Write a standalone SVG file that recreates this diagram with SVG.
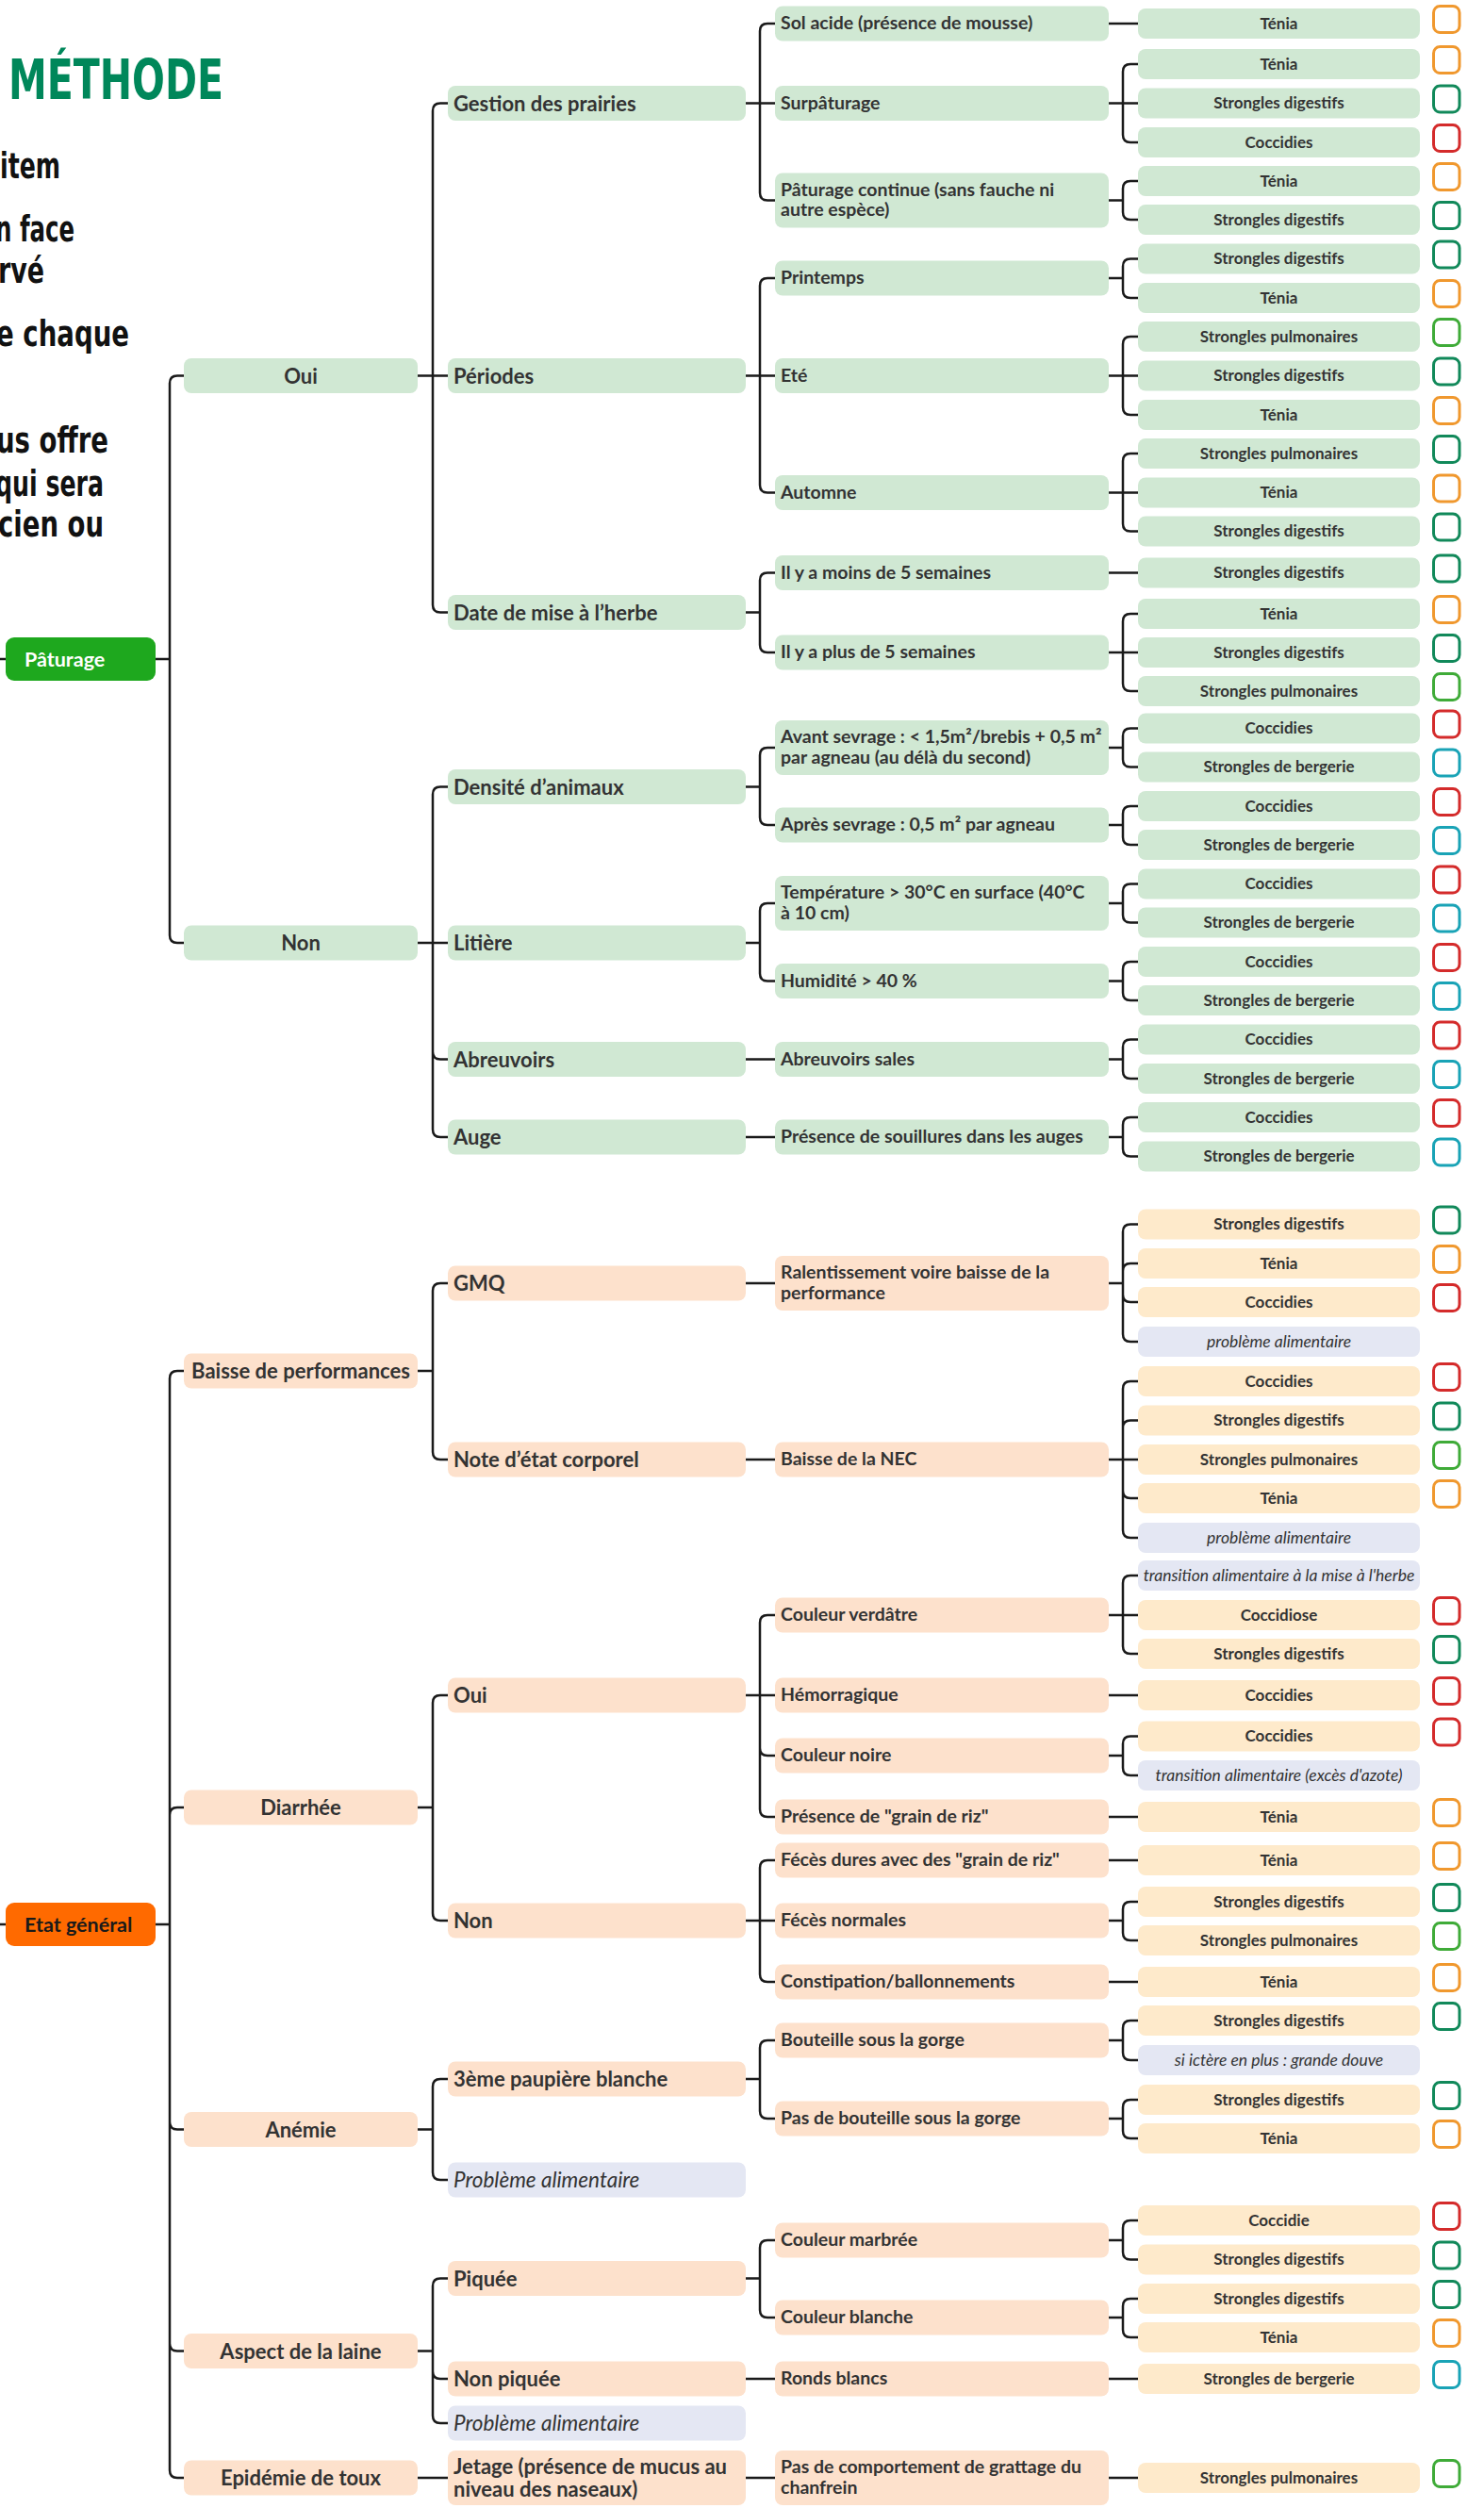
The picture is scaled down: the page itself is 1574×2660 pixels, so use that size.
<svg xmlns="http://www.w3.org/2000/svg" width="1574" height="2660" viewBox="0 0 1574 2660">
<style>
text{font-family:Lato,"Open Sans","Liberation Sans",sans-serif;fill:#333;font-weight:700}
.g{fill:#d0e8d3}.p{fill:#fde1cc}.y{fill:#feeacb}.v{fill:#e4e7f3}
.t1{font-size:22px;text-anchor:middle;transform:translateY(1px)}
.t2{font-size:22px;transform:translateY(1.5px)}
.t3{font-size:19.5px}
.t4{font-size:17px;text-anchor:middle}
.ti{font-size:17.5px;text-anchor:middle;font-style:italic;font-weight:400;transform:translateY(0.5px)}
.t2i{font-size:22.5px;font-style:italic;font-weight:400;transform:translateY(1.5px)}
.rt{font-size:21.5px}
.cb{fill:none;stroke-width:3}
.co{stroke:#f0982e}.cd{stroke:#11895a}.cr{stroke:#d42b2b}.cl{stroke:#3fab38}.ct{stroke:#19a3b6}
.big{font-family:"DejaVu Sans",sans-serif;font-weight:700;fill:#111}
#connectors path{fill:none;stroke:#1a1a1a;stroke-width:2.5}
</style>
<rect width="1574" height="2660" fill="#fff"/>
<text class="big" x="9" y="105" font-size="58" textLength="228" lengthAdjust="spacingAndGlyphs" style="fill:#00875a">MÉTHODE</text>
<text class="big" x="0" y="189" font-size="37" textLength="64" lengthAdjust="spacingAndGlyphs">item</text>
<text class="big" x="-5" y="256" font-size="37" textLength="84" lengthAdjust="spacingAndGlyphs">n face</text>
<text class="big" x="-2" y="300" font-size="37" textLength="49" lengthAdjust="spacingAndGlyphs">rvé</text>
<text class="big" x="-4" y="367" font-size="37" textLength="141" lengthAdjust="spacingAndGlyphs">e chaque</text>
<text class="big" x="-4" y="480" font-size="37" textLength="119" lengthAdjust="spacingAndGlyphs">us offre</text>
<text class="big" x="-5" y="526" font-size="37" textLength="115" lengthAdjust="spacingAndGlyphs">qui sera</text>
<text class="big" x="-2" y="569" font-size="37" textLength="112" lengthAdjust="spacingAndGlyphs">cien ou</text>

<g id="connectors">
<path d="M0,699H6M165,699H180V406.5Q180,398.5 188,398.5H195M165,699H180V992Q180,1000 188,1000H195"/>
<path d="M443,398.5H459V117.5Q459,109.5 467,109.5H475M443,398.5H475M443,398.5H459V641.5Q459,649.5 467,649.5H475"/>
<path d="M443,1000H459V842.5Q459,834.5 467,834.5H475M443,1000H475M443,1000H459V1115.5Q459,1123.5 467,1123.5H475M443,1000H459V1198Q459,1206 467,1206H475"/>
<path d="M791,109.5H806V33Q806,25 814,25H822M791,109.5H822M791,109.5H806V204.5Q806,212.5 814,212.5H822"/>
<path d="M791,398.5H806V303Q806,295 814,295H822M791,398.5H822M791,398.5H806V514.5Q806,522.5 814,522.5H822"/>
<path d="M791,649.5H806V615.5Q806,607.5 814,607.5H822M791,649.5H806V684Q806,692 814,692H822"/>
<path d="M791,834.5H806V801Q806,793 814,793H822M791,834.5H806V867Q806,875 814,875H822"/>
<path d="M791,1000H806V966Q806,958 814,958H822M791,1000H806V1032.5Q806,1040.5 814,1040.5H822"/>
<path d="M791,1123.5H822M791,1206H822"/>
<path d="M1176,25H1207"/>
<path d="M1176,109.5H1191V76Q1191,68 1199,68H1207M1176,109.5H1207M1176,109.5H1191V143Q1191,151 1199,151H1207"/>
<path d="M1176,212.5H1191V200Q1191,192 1199,192H1207M1176,212.5H1191V225Q1191,233 1199,233H1207"/>
<path d="M1176,295H1191V282.5Q1191,274.5 1199,274.5H1207M1176,295H1191V308Q1191,316 1199,316H1207"/>
<path d="M1176,398.5H1191V365Q1191,357 1199,357H1207M1176,398.5H1207M1176,398.5H1191V432Q1191,440 1199,440H1207"/>
<path d="M1176,522.5H1191V489Q1191,481 1199,481H1207M1176,522.5H1207M1176,522.5H1191V555.5Q1191,563.5 1199,563.5H1207"/>
<path d="M1176,607.5H1207"/>
<path d="M1176,692H1191V659Q1191,651 1199,651H1207M1176,692H1207M1176,692H1191V725Q1191,733 1199,733H1207"/>
<path d="M1176,793H1191V780.5Q1191,772.5 1199,772.5H1207M1176,793H1191V805.5Q1191,813.5 1199,813.5H1207"/>
<path d="M1176,875H1191V863Q1191,855 1199,855H1207M1176,875H1191V888Q1191,896 1199,896H1207"/>
<path d="M1176,958H1191V945.5Q1191,937.5 1199,937.5H1207M1176,958H1191V970.5Q1191,978.5 1199,978.5H1207"/>
<path d="M1176,1040.5H1191V1028Q1191,1020 1199,1020H1207M1176,1040.5H1191V1053Q1191,1061 1199,1061H1207"/>
<path d="M1176,1123.5H1191V1110.5Q1191,1102.5 1199,1102.5H1207M1176,1123.5H1191V1136Q1191,1144 1199,1144H1207"/>
<path d="M1176,1206H1191V1193Q1191,1185 1199,1185H1207M1176,1206H1191V1218.5Q1191,1226.5 1199,1226.5H1207"/>
<path d="M0,2041H6M165,2041H180V1462Q180,1454 188,1454H195M165,2041H180V1925Q180,1917 188,1917H195M165,2041H180V2250.5Q180,2258.5 188,2258.5H195M165,2041H180V2485.5Q180,2493.5 188,2493.5H195M165,2041H180V2620Q180,2628 188,2628H195"/>
<path d="M443,1454H459V1369Q459,1361 467,1361H475M443,1454H459V1540Q459,1548 467,1548H475"/>
<path d="M443,1917H459V1806Q459,1798 467,1798H475M443,1917H459V2029Q459,2037 467,2037H475"/>
<path d="M443,2258.5H459V2213Q459,2205 467,2205H475M443,2258.5H459V2304Q459,2312 467,2312H475"/>
<path d="M443,2493.5H459V2424.5Q459,2416.5 467,2416.5H475M443,2493.5H459V2515Q459,2523 467,2523H475M443,2493.5H459V2562Q459,2570 467,2570H475"/>
<path d="M443,2628H475"/>
<path d="M791,1361H822M791,1548H822M791,2523H822M791,2628H822"/>
<path d="M791,1798H806V1721Q806,1713 814,1713H822M791,1798H822M791,1798H806V1854Q806,1862 814,1862H822M791,1798H806V1919Q806,1927 814,1927H822"/>
<path d="M791,2037H806V1981Q806,1973 814,1973H822M791,2037H822M791,2037H806V2094Q806,2102 814,2102H822"/>
<path d="M791,2205H806V2172Q806,2164 814,2164H822M791,2205H806V2239Q806,2247 814,2247H822"/>
<path d="M791,2416.5H806V2384Q806,2376 814,2376H822M791,2416.5H806V2450Q806,2458 814,2458H822"/>
<path d="M1176,1361H1191V1306.5Q1191,1298.5 1199,1298.5H1207M1176,1361H1191V1348Q1191,1340 1199,1340H1207M1176,1361H1191V1373Q1191,1381 1199,1381H1207M1176,1361H1191V1415Q1191,1423 1199,1423H1207"/>
<path d="M1176,1548H1191V1473Q1191,1465 1199,1465H1207M1176,1548H1191V1514.5Q1191,1506.5 1199,1506.5H1207M1176,1548H1207M1176,1548H1191V1581Q1191,1589 1199,1589H1207M1176,1548H1191V1623Q1191,1631 1199,1631H1207"/>
<path d="M1176,1713H1191V1679Q1191,1671 1199,1671H1207M1176,1713H1207M1176,1713H1191V1746Q1191,1754 1199,1754H1207"/>
<path d="M1176,1798H1207M1176,1927H1207M1176,1973H1207M1176,2102H1207M1176,2523H1207M1176,2628H1207"/>
<path d="M1176,1862H1191V1849.5Q1191,1841.5 1199,1841.5H1207M1176,1862H1191V1875Q1191,1883 1199,1883H1207"/>
<path d="M1176,2037H1191V2025Q1191,2017 1199,2017H1207M1176,2037H1191V2050Q1191,2058 1199,2058H1207"/>
<path d="M1176,2164H1191V2151Q1191,2143 1199,2143H1207M1176,2164H1191V2177Q1191,2185 1199,2185H1207"/>
<path d="M1176,2247H1191V2235Q1191,2227 1199,2227H1207M1176,2247H1191V2260Q1191,2268 1199,2268H1207"/>
<path d="M1176,2376H1191V2363Q1191,2355 1199,2355H1207M1176,2376H1191V2388.5Q1191,2396.5 1199,2396.5H1207"/>
<path d="M1176,2458H1191V2446Q1191,2438 1199,2438H1207M1176,2458H1191V2471Q1191,2479 1199,2479H1207"/>
</g>

<g id="n-paturage"><rect x="6" y="676" width="159" height="46" rx="9" fill="#1ea81e"/><text class="rt" x="26" y="706.5" style="fill:#fff">Pâturage</text></g>
<g id="n-etat"><rect x="6" y="2018" width="159" height="46" rx="9" fill="#ff6a00"/><text class="rt" x="26" y="2048.5" style="fill:#1a1a1a">Etat général</text></g>

<g id="n-oui1"><rect class="g" x="195" y="380" width="248" height="37" rx="8"/><text class="t1" x="319" y="405.5">Oui</text></g>
<g id="n-non1"><rect class="g" x="195" y="981.5" width="248" height="37" rx="8"/><text class="t1" x="319" y="1007">Non</text></g>
<g id="n-baisse"><rect class="p" x="195" y="1435.5" width="248" height="37" rx="8"/><text class="t1" x="319" y="1461">Baisse de performances</text></g>
<g id="n-diarrhee"><rect class="p" x="195" y="1898.5" width="248" height="37" rx="8"/><text class="t1" x="319" y="1924">Diarrhée</text></g>
<g id="n-anemie"><rect class="p" x="195" y="2240" width="248" height="37" rx="8"/><text class="t1" x="319" y="2265.5">Anémie</text></g>
<g id="n-aspect"><rect class="p" x="195" y="2475" width="248" height="37" rx="8"/><text class="t1" x="319" y="2500.5">Aspect de la laine</text></g>
<g id="n-epidemie"><rect class="p" x="195" y="2609.5" width="248" height="37" rx="8"/><text class="t1" x="319" y="2635">Epidémie de toux</text></g>

<g id="n-gestion"><rect class="g" x="475" y="91" width="316" height="37" rx="8"/><text class="t2" x="481" y="116">Gestion des prairies</text></g>
<g id="n-periodes"><rect class="g" x="475" y="380" width="316" height="37" rx="8"/><text class="t2" x="481" y="405">Périodes</text></g>
<g id="n-date"><rect class="g" x="475" y="631" width="316" height="37" rx="8"/><text class="t2" x="481" y="656">Date de mise à l’herbe</text></g>
<g id="n-densite"><rect class="g" x="475" y="816" width="316" height="37" rx="8"/><text class="t2" x="481" y="841">Densité d’animaux</text></g>
<g id="n-litiere"><rect class="g" x="475" y="981.5" width="316" height="37" rx="8"/><text class="t2" x="481" y="1006.5">Litière</text></g>
<g id="n-abreuvoirs"><rect class="g" x="475" y="1105" width="316" height="37" rx="8"/><text class="t2" x="481" y="1130">Abreuvoirs</text></g>
<g id="n-auge"><rect class="g" x="475" y="1187.5" width="316" height="37" rx="8"/><text class="t2" x="481" y="1212.5">Auge</text></g>
<g id="n-gmq"><rect class="p" x="475" y="1342.5" width="316" height="37" rx="8"/><text class="t2" x="481" y="1367.5">GMQ</text></g>
<g id="n-note"><rect class="p" x="475" y="1529.5" width="316" height="37" rx="8"/><text class="t2" x="481" y="1554.5">Note d’état corporel</text></g>
<g id="n-oui2"><rect class="p" x="475" y="1779.5" width="316" height="37" rx="8"/><text class="t2" x="481" y="1804.5">Oui</text></g>
<g id="n-non2"><rect class="p" x="475" y="2018.5" width="316" height="37" rx="8"/><text class="t2" x="481" y="2043.5">Non</text></g>
<g id="n-paupiere"><rect class="p" x="475" y="2186.5" width="316" height="37" rx="8"/><text class="t2" x="481" y="2211.5">3ème paupière blanche</text></g>
<g id="n-pbalim1"><rect class="v" x="475" y="2293.5" width="316" height="37" rx="8"/><text class="t2i" x="481" y="2318.5">Problème alimentaire</text></g>
<g id="n-piquee"><rect class="p" x="475" y="2398" width="316" height="37" rx="8"/><text class="t2" x="481" y="2423">Piquée</text></g>
<g id="n-nonpiquee"><rect class="p" x="475" y="2504.5" width="316" height="37" rx="8"/><text class="t2" x="481" y="2529.5">Non piquée</text></g>
<g id="n-pbalim2"><rect class="v" x="475" y="2551.5" width="316" height="37" rx="8"/><text class="t2i" x="481" y="2576.5">Problème alimentaire</text></g>
<g id="n-jetage"><rect class="p" x="475" y="2599" width="316" height="58" rx="8"/><text class="t2" x="481" y="2622.5">Jetage (présence de mucus au</text><text class="t2" x="481" y="2646.5">niveau des naseaux)</text></g>

<g id="n-solacide"><rect class="g" x="822" y="6.5" width="354" height="37" rx="8"/><text class="t3" x="828" y="31">Sol acide (présence de mousse)</text></g>
<g id="n-surpat"><rect class="g" x="822" y="91" width="354" height="37" rx="8"/><text class="t3" x="828" y="115.5">Surpâturage</text></g>
<g id="n-patcont"><rect class="g" x="822" y="183.5" width="354" height="58" rx="8"/><text class="t3" x="828" y="207.5">Pâturage continue (sans fauche ni</text><text class="t3" x="828" y="229">autre espèce)</text></g>
<g id="n-printemps"><rect class="g" x="822" y="276.5" width="354" height="37" rx="8"/><text class="t3" x="828" y="301">Printemps</text></g>
<g id="n-ete"><rect class="g" x="822" y="380" width="354" height="37" rx="8"/><text class="t3" x="828" y="404.5">Eté</text></g>
<g id="n-automne"><rect class="g" x="822" y="504" width="354" height="37" rx="8"/><text class="t3" x="828" y="528.5">Automne</text></g>
<g id="n-moins"><rect class="g" x="822" y="589" width="354" height="37" rx="8"/><text class="t3" x="828" y="613.5">Il y a moins de 5 semaines</text></g>
<g id="n-plus"><rect class="g" x="822" y="673.5" width="354" height="37" rx="8"/><text class="t3" x="828" y="698">Il y a plus de 5 semaines</text></g>
<g id="n-avant"><rect class="g" x="822" y="764" width="354" height="58" rx="8"/><text class="t3" x="828" y="788">Avant sevrage : &lt; 1,5m²/brebis + 0,5 m²</text><text class="t3" x="828" y="809.5">par agneau (au délà du second)</text></g>
<g id="n-apres"><rect class="g" x="822" y="856.5" width="354" height="37" rx="8"/><text class="t3" x="828" y="881">Après sevrage : 0,5 m² par agneau</text></g>
<g id="n-temp"><rect class="g" x="822" y="929" width="354" height="58" rx="8"/><text class="t3" x="828" y="953">Température &gt; 30°C en surface (40°C</text><text class="t3" x="828" y="974.5">à 10 cm)</text></g>
<g id="n-humid"><rect class="g" x="822" y="1022" width="354" height="37" rx="8"/><text class="t3" x="828" y="1046.5">Humidité &gt; 40 %</text></g>
<g id="n-abrsales"><rect class="g" x="822" y="1105" width="354" height="37" rx="8"/><text class="t3" x="828" y="1129.5">Abreuvoirs sales</text></g>
<g id="n-souillures"><rect class="g" x="822" y="1187.5" width="354" height="37" rx="8"/><text class="t3" x="828" y="1212">Présence de souillures dans les auges</text></g>
<g id="n-ralent"><rect class="p" x="822" y="1332" width="354" height="58" rx="8"/><text class="t3" x="828" y="1356">Ralentissement voire baisse de la</text><text class="t3" x="828" y="1377.5">performance</text></g>
<g id="n-nec"><rect class="p" x="822" y="1529.5" width="354" height="37" rx="8"/><text class="t3" x="828" y="1554">Baisse de la NEC</text></g>
<g id="n-verdatre"><rect class="p" x="822" y="1694.5" width="354" height="37" rx="8"/><text class="t3" x="828" y="1719">Couleur verdâtre</text></g>
<g id="n-hemorr"><rect class="p" x="822" y="1779.5" width="354" height="37" rx="8"/><text class="t3" x="828" y="1804">Hémorragique</text></g>
<g id="n-noire"><rect class="p" x="822" y="1843.5" width="354" height="37" rx="8"/><text class="t3" x="828" y="1868">Couleur noire</text></g>
<g id="n-grainriz"><rect class="p" x="822" y="1908.5" width="354" height="37" rx="8"/><text class="t3" x="828" y="1933">Présence de "grain de riz"</text></g>
<g id="n-fecesdures"><rect class="p" x="822" y="1954.5" width="354" height="37" rx="8"/><text class="t3" x="828" y="1979">Fécès dures avec des "grain de riz"</text></g>
<g id="n-fecesnorm"><rect class="p" x="822" y="2018.5" width="354" height="37" rx="8"/><text class="t3" x="828" y="2043">Fécès normales</text></g>
<g id="n-constip"><rect class="p" x="822" y="2083.5" width="354" height="37" rx="8"/><text class="t3" x="828" y="2108">Constipation/ballonnements</text></g>
<g id="n-bouteille"><rect class="p" x="822" y="2145.5" width="354" height="37" rx="8"/><text class="t3" x="828" y="2170">Bouteille sous la gorge</text></g>
<g id="n-pasbouteille"><rect class="p" x="822" y="2228.5" width="354" height="37" rx="8"/><text class="t3" x="828" y="2253">Pas de bouteille sous la gorge</text></g>
<g id="n-marbree"><rect class="p" x="822" y="2357.5" width="354" height="37" rx="8"/><text class="t3" x="828" y="2382">Couleur marbrée</text></g>
<g id="n-blanche"><rect class="p" x="822" y="2439.5" width="354" height="37" rx="8"/><text class="t3" x="828" y="2464">Couleur blanche</text></g>
<g id="n-ronds"><rect class="p" x="822" y="2504.5" width="354" height="37" rx="8"/><text class="t3" x="828" y="2529">Ronds blancs</text></g>
<g id="n-grattage"><rect class="p" x="822" y="2599" width="354" height="58" rx="8"/><text class="t3" x="828" y="2623">Pas de comportement de grattage du</text><text class="t3" x="828" y="2644.5">chanfrein</text></g>

<g id="n-l01"><rect class="g" x="1207" y="9" width="299" height="32" rx="8"/><text class="t4" x="1356.5" y="30.5">Ténia</text><rect class="cb co" x="1520.5" y="6.5" width="27.5" height="28" rx="7"/></g>
<g id="n-l02"><rect class="g" x="1207" y="52" width="299" height="32" rx="8"/><text class="t4" x="1356.5" y="73.5">Ténia</text><rect class="cb co" x="1520.5" y="49.5" width="27.5" height="28" rx="7"/></g>
<g id="n-l03"><rect class="g" x="1207" y="93.5" width="299" height="32" rx="8"/><text class="t4" x="1356.5" y="115">Strongles digestifs</text><rect class="cb cd" x="1520.5" y="91" width="27.5" height="28" rx="7"/></g>
<g id="n-l04"><rect class="g" x="1207" y="135" width="299" height="32" rx="8"/><text class="t4" x="1356.5" y="156.5">Coccidies</text><rect class="cb cr" x="1520.5" y="132.5" width="27.5" height="28" rx="7"/></g>
<g id="n-l05"><rect class="g" x="1207" y="176" width="299" height="32" rx="8"/><text class="t4" x="1356.5" y="197.5">Ténia</text><rect class="cb co" x="1520.5" y="173.5" width="27.5" height="28" rx="7"/></g>
<g id="n-l06"><rect class="g" x="1207" y="217" width="299" height="32" rx="8"/><text class="t4" x="1356.5" y="238.5">Strongles digestifs</text><rect class="cb cd" x="1520.5" y="214.5" width="27.5" height="28" rx="7"/></g>
<g id="n-l07"><rect class="g" x="1207" y="258.5" width="299" height="32" rx="8"/><text class="t4" x="1356.5" y="280">Strongles digestifs</text><rect class="cb cd" x="1520.5" y="256" width="27.5" height="28" rx="7"/></g>
<g id="n-l08"><rect class="g" x="1207" y="300" width="299" height="32" rx="8"/><text class="t4" x="1356.5" y="321.5">Ténia</text><rect class="cb co" x="1520.5" y="297.5" width="27.5" height="28" rx="7"/></g>
<g id="n-l09"><rect class="g" x="1207" y="341" width="299" height="32" rx="8"/><text class="t4" x="1356.5" y="362.5">Strongles pulmonaires</text><rect class="cb cl" x="1520.5" y="338.5" width="27.5" height="28" rx="7"/></g>
<g id="n-l10"><rect class="g" x="1207" y="382.5" width="299" height="32" rx="8"/><text class="t4" x="1356.5" y="404">Strongles digestifs</text><rect class="cb cd" x="1520.5" y="380" width="27.5" height="28" rx="7"/></g>
<g id="n-l11"><rect class="g" x="1207" y="424" width="299" height="32" rx="8"/><text class="t4" x="1356.5" y="445.5">Ténia</text><rect class="cb co" x="1520.5" y="421.5" width="27.5" height="28" rx="7"/></g>
<g id="n-l12"><rect class="g" x="1207" y="465" width="299" height="32" rx="8"/><text class="t4" x="1356.5" y="486.5">Strongles pulmonaires</text><rect class="cb cd" x="1520.5" y="462.5" width="27.5" height="28" rx="7"/></g>
<g id="n-l13"><rect class="g" x="1207" y="506.5" width="299" height="32" rx="8"/><text class="t4" x="1356.5" y="528">Ténia</text><rect class="cb co" x="1520.5" y="504" width="27.5" height="28" rx="7"/></g>
<g id="n-l14"><rect class="g" x="1207" y="547.5" width="299" height="32" rx="8"/><text class="t4" x="1356.5" y="569">Strongles digestifs</text><rect class="cb cd" x="1520.5" y="545" width="27.5" height="28" rx="7"/></g>
<g id="n-l15"><rect class="g" x="1207" y="591.5" width="299" height="32" rx="8"/><text class="t4" x="1356.5" y="613">Strongles digestifs</text><rect class="cb cd" x="1520.5" y="589" width="27.5" height="28" rx="7"/></g>
<g id="n-l16"><rect class="g" x="1207" y="635" width="299" height="32" rx="8"/><text class="t4" x="1356.5" y="656.5">Ténia</text><rect class="cb co" x="1520.5" y="632.5" width="27.5" height="28" rx="7"/></g>
<g id="n-l17"><rect class="g" x="1207" y="676" width="299" height="32" rx="8"/><text class="t4" x="1356.5" y="697.5">Strongles digestifs</text><rect class="cb cd" x="1520.5" y="673.5" width="27.5" height="28" rx="7"/></g>
<g id="n-l18"><rect class="g" x="1207" y="717" width="299" height="32" rx="8"/><text class="t4" x="1356.5" y="738.5">Strongles pulmonaires</text><rect class="cb cl" x="1520.5" y="714.5" width="27.5" height="28" rx="7"/></g>
<g id="n-l19"><rect class="g" x="1207" y="756.5" width="299" height="32" rx="8"/><text class="t4" x="1356.5" y="778">Coccidies</text><rect class="cb cr" x="1520.5" y="754" width="27.5" height="28" rx="7"/></g>
<g id="n-l20"><rect class="g" x="1207" y="797.5" width="299" height="32" rx="8"/><text class="t4" x="1356.5" y="819">Strongles de bergerie</text><rect class="cb ct" x="1520.5" y="795" width="27.5" height="28" rx="7"/></g>
<g id="n-l21"><rect class="g" x="1207" y="839" width="299" height="32" rx="8"/><text class="t4" x="1356.5" y="860.5">Coccidies</text><rect class="cb cr" x="1520.5" y="836.5" width="27.5" height="28" rx="7"/></g>
<g id="n-l22"><rect class="g" x="1207" y="880" width="299" height="32" rx="8"/><text class="t4" x="1356.5" y="901.5">Strongles de bergerie</text><rect class="cb ct" x="1520.5" y="877.5" width="27.5" height="28" rx="7"/></g>
<g id="n-l23"><rect class="g" x="1207" y="921.5" width="299" height="32" rx="8"/><text class="t4" x="1356.5" y="943">Coccidies</text><rect class="cb cr" x="1520.5" y="919" width="27.5" height="28" rx="7"/></g>
<g id="n-l24"><rect class="g" x="1207" y="962.5" width="299" height="32" rx="8"/><text class="t4" x="1356.5" y="984">Strongles de bergerie</text><rect class="cb ct" x="1520.5" y="960" width="27.5" height="28" rx="7"/></g>
<g id="n-l25"><rect class="g" x="1207" y="1004" width="299" height="32" rx="8"/><text class="t4" x="1356.5" y="1025.5">Coccidies</text><rect class="cb cr" x="1520.5" y="1001.5" width="27.5" height="28" rx="7"/></g>
<g id="n-l26"><rect class="g" x="1207" y="1045" width="299" height="32" rx="8"/><text class="t4" x="1356.5" y="1066.5">Strongles de bergerie</text><rect class="cb ct" x="1520.5" y="1042.5" width="27.5" height="28" rx="7"/></g>
<g id="n-l27"><rect class="g" x="1207" y="1086.5" width="299" height="32" rx="8"/><text class="t4" x="1356.5" y="1108">Coccidies</text><rect class="cb cr" x="1520.5" y="1084" width="27.5" height="28" rx="7"/></g>
<g id="n-l28"><rect class="g" x="1207" y="1128" width="299" height="32" rx="8"/><text class="t4" x="1356.5" y="1149.5">Strongles de bergerie</text><rect class="cb ct" x="1520.5" y="1125.5" width="27.5" height="28" rx="7"/></g>
<g id="n-l29"><rect class="g" x="1207" y="1169" width="299" height="32" rx="8"/><text class="t4" x="1356.5" y="1190.5">Coccidies</text><rect class="cb cr" x="1520.5" y="1166.5" width="27.5" height="28" rx="7"/></g>
<g id="n-l30"><rect class="g" x="1207" y="1210.5" width="299" height="32" rx="8"/><text class="t4" x="1356.5" y="1232">Strongles de bergerie</text><rect class="cb ct" x="1520.5" y="1208" width="27.5" height="28" rx="7"/></g>

<g id="n-l31"><rect class="y" x="1207" y="1282.5" width="299" height="32" rx="8"/><text class="t4" x="1356.5" y="1304">Strongles digestifs</text><rect class="cb cd" x="1520.5" y="1280" width="27.5" height="28" rx="7"/></g>
<g id="n-l32"><rect class="y" x="1207" y="1324" width="299" height="32" rx="8"/><text class="t4" x="1356.5" y="1345.5">Ténia</text><rect class="cb co" x="1520.5" y="1321.5" width="27.5" height="28" rx="7"/></g>
<g id="n-l33"><rect class="y" x="1207" y="1365" width="299" height="32" rx="8"/><text class="t4" x="1356.5" y="1386.5">Coccidies</text><rect class="cb cr" x="1520.5" y="1362.5" width="27.5" height="28" rx="7"/></g>
<g id="n-l34"><rect class="v" x="1207" y="1407" width="299" height="32" rx="8"/><text class="ti" x="1356.5" y="1428">problème alimentaire</text></g>
<g id="n-l35"><rect class="y" x="1207" y="1449" width="299" height="32" rx="8"/><text class="t4" x="1356.5" y="1470.5">Coccidies</text><rect class="cb cr" x="1520.5" y="1446.5" width="27.5" height="28" rx="7"/></g>
<g id="n-l36"><rect class="y" x="1207" y="1490.5" width="299" height="32" rx="8"/><text class="t4" x="1356.5" y="1512">Strongles digestifs</text><rect class="cb cd" x="1520.5" y="1488" width="27.5" height="28" rx="7"/></g>
<g id="n-l37"><rect class="y" x="1207" y="1532" width="299" height="32" rx="8"/><text class="t4" x="1356.5" y="1553.5">Strongles pulmonaires</text><rect class="cb cl" x="1520.5" y="1529.5" width="27.5" height="28" rx="7"/></g>
<g id="n-l38"><rect class="y" x="1207" y="1573" width="299" height="32" rx="8"/><text class="t4" x="1356.5" y="1594.5">Ténia</text><rect class="cb co" x="1520.5" y="1570.5" width="27.5" height="28" rx="7"/></g>
<g id="n-l39"><rect class="v" x="1207" y="1615" width="299" height="32" rx="8"/><text class="ti" x="1356.5" y="1636">problème alimentaire</text></g>
<g id="n-l40"><rect class="v" x="1207" y="1655" width="299" height="32" rx="8"/><text class="ti" x="1356.5" y="1676">transition alimentaire à la mise à l'herbe</text></g>
<g id="n-l41"><rect class="y" x="1207" y="1697" width="299" height="32" rx="8"/><text class="t4" x="1356.5" y="1718.5">Coccidiose</text><rect class="cb cr" x="1520.5" y="1694.5" width="27.5" height="28" rx="7"/></g>
<g id="n-l42"><rect class="y" x="1207" y="1738" width="299" height="32" rx="8"/><text class="t4" x="1356.5" y="1759.5">Strongles digestifs</text><rect class="cb cd" x="1520.5" y="1735.5" width="27.5" height="28" rx="7"/></g>
<g id="n-l43"><rect class="y" x="1207" y="1782" width="299" height="32" rx="8"/><text class="t4" x="1356.5" y="1803.5">Coccidies</text><rect class="cb cr" x="1520.5" y="1779.5" width="27.5" height="28" rx="7"/></g>
<g id="n-l44"><rect class="y" x="1207" y="1825.5" width="299" height="32" rx="8"/><text class="t4" x="1356.5" y="1847">Coccidies</text><rect class="cb cr" x="1520.5" y="1823" width="27.5" height="28" rx="7"/></g>
<g id="n-l45"><rect class="v" x="1207" y="1867" width="299" height="32" rx="8"/><text class="ti" x="1356.5" y="1888">transition alimentaire (excès d'azote)</text></g>
<g id="n-l46"><rect class="y" x="1207" y="1911" width="299" height="32" rx="8"/><text class="t4" x="1356.5" y="1932.5">Ténia</text><rect class="cb co" x="1520.5" y="1908.5" width="27.5" height="28" rx="7"/></g>
<g id="n-l47"><rect class="y" x="1207" y="1957" width="299" height="32" rx="8"/><text class="t4" x="1356.5" y="1978.5">Ténia</text><rect class="cb co" x="1520.5" y="1954.5" width="27.5" height="28" rx="7"/></g>
<g id="n-l48"><rect class="y" x="1207" y="2001" width="299" height="32" rx="8"/><text class="t4" x="1356.5" y="2022.5">Strongles digestifs</text><rect class="cb cd" x="1520.5" y="1998.5" width="27.5" height="28" rx="7"/></g>
<g id="n-l49"><rect class="y" x="1207" y="2042" width="299" height="32" rx="8"/><text class="t4" x="1356.5" y="2063.5">Strongles pulmonaires</text><rect class="cb cl" x="1520.5" y="2039.5" width="27.5" height="28" rx="7"/></g>
<g id="n-l50"><rect class="y" x="1207" y="2086" width="299" height="32" rx="8"/><text class="t4" x="1356.5" y="2107.5">Ténia</text><rect class="cb co" x="1520.5" y="2083.5" width="27.5" height="28" rx="7"/></g>
<g id="n-l51"><rect class="y" x="1207" y="2127" width="299" height="32" rx="8"/><text class="t4" x="1356.5" y="2148.5">Strongles digestifs</text><rect class="cb cd" x="1520.5" y="2124.5" width="27.5" height="28" rx="7"/></g>
<g id="n-l52"><rect class="v" x="1207" y="2169" width="299" height="32" rx="8"/><text class="ti" x="1356.5" y="2190">si ictère en plus : grande douve</text></g>
<g id="n-l53"><rect class="y" x="1207" y="2211" width="299" height="32" rx="8"/><text class="t4" x="1356.5" y="2232.5">Strongles digestifs</text><rect class="cb cd" x="1520.5" y="2208.5" width="27.5" height="28" rx="7"/></g>
<g id="n-l54"><rect class="y" x="1207" y="2252" width="299" height="32" rx="8"/><text class="t4" x="1356.5" y="2273.5">Ténia</text><rect class="cb co" x="1520.5" y="2249.5" width="27.5" height="28" rx="7"/></g>
<g id="n-l55"><rect class="y" x="1207" y="2339" width="299" height="32" rx="8"/><text class="t4" x="1356.5" y="2360.5">Coccidie</text><rect class="cb cr" x="1520.5" y="2336.5" width="27.5" height="28" rx="7"/></g>
<g id="n-l56"><rect class="y" x="1207" y="2380.5" width="299" height="32" rx="8"/><text class="t4" x="1356.5" y="2402">Strongles digestifs</text><rect class="cb cd" x="1520.5" y="2378" width="27.5" height="28" rx="7"/></g>
<g id="n-l57"><rect class="y" x="1207" y="2422" width="299" height="32" rx="8"/><text class="t4" x="1356.5" y="2443.5">Strongles digestifs</text><rect class="cb cd" x="1520.5" y="2419.5" width="27.5" height="28" rx="7"/></g>
<g id="n-l58"><rect class="y" x="1207" y="2463" width="299" height="32" rx="8"/><text class="t4" x="1356.5" y="2484.5">Ténia</text><rect class="cb co" x="1520.5" y="2460.5" width="27.5" height="28" rx="7"/></g>
<g id="n-l59"><rect class="y" x="1207" y="2507" width="299" height="32" rx="8"/><text class="t4" x="1356.5" y="2528.5">Strongles de bergerie</text><rect class="cb ct" x="1520.5" y="2504.5" width="27.5" height="28" rx="7"/></g>
<g id="n-l60"><rect class="y" x="1207" y="2612" width="299" height="32" rx="8"/><text class="t4" x="1356.5" y="2633.5">Strongles pulmonaires</text><rect class="cb cl" x="1520.5" y="2609.5" width="27.5" height="28" rx="7"/></g>
</svg>
